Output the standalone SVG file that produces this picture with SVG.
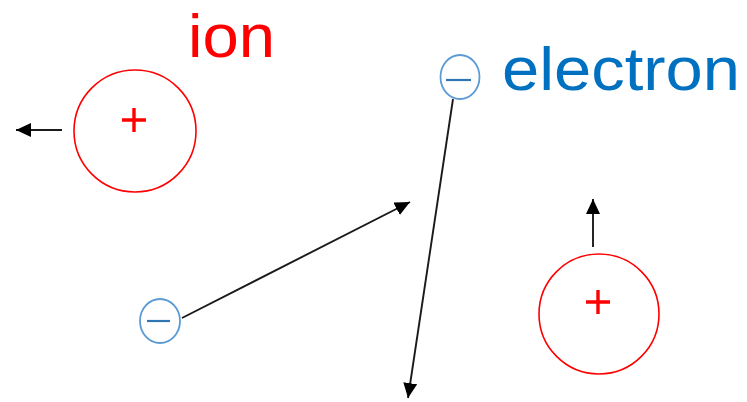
<svg xmlns="http://www.w3.org/2000/svg" width="747" height="402" viewBox="0 0 747 402">
<defs>
<style>
.ion{fill:none;stroke:#FF0000;stroke-width:1.6}
.plus{stroke:#FF0000;stroke-width:3.4;fill:none}
.el{fill:#fff;stroke:#5B9BD5;stroke-width:1.8}
.minus{stroke:#2E75B6;stroke-width:2.2}
.arr{stroke:#1a1a1a;stroke-width:1.9;fill:none;marker-end:url(#ah)}
.lbl{font-family:"Liberation Sans","Open Sans",sans-serif;font-size:62px}
</style>
<marker id="ah" markerUnits="userSpaceOnUse" markerWidth="16" markerHeight="14" refX="15" refY="7" orient="auto" viewBox="0 0 16 14">
<path d="M0,0 L15,7 L0,14 z" fill="#000"/>
</marker>
</defs>
<g id="label-ion"><text class="lbl" x="188" y="57" fill="#FF0000" textLength="87" lengthAdjust="spacingAndGlyphs">ion</text></g>
<g id="label-electron"><text class="lbl" x="502" y="90" fill="#0070C0" textLength="238" lengthAdjust="spacingAndGlyphs">electron</text></g>
<g id="ion1">
<circle class="ion" cx="135" cy="131" r="61"/>
<path class="plus" d="M122,120 H146 M134,108 V132"/>
</g>
<g id="ion2">
<circle class="ion" cx="599" cy="314" r="60"/>
<path class="plus" d="M586,302 H610 M598,290 V314"/>
</g>
<g id="electron1">
<ellipse class="el" cx="460" cy="77" rx="19.5" ry="22"/>
<path class="minus" d="M446,80 H471"/>
</g>
<g id="electron2">
<ellipse class="el" cx="160" cy="321" rx="20" ry="22"/>
<path class="minus" d="M147,321 H170"/>
</g>
<g id="connectors">
<line class="arr" x1="62" y1="130" x2="16" y2="130"/>
<line class="arr" x1="593" y1="247" x2="593" y2="199"/>
<line class="arr" x1="182" y1="318" x2="410" y2="202"/>
<line class="arr" x1="453" y1="99" x2="408" y2="398"/>
</g>
</svg>
